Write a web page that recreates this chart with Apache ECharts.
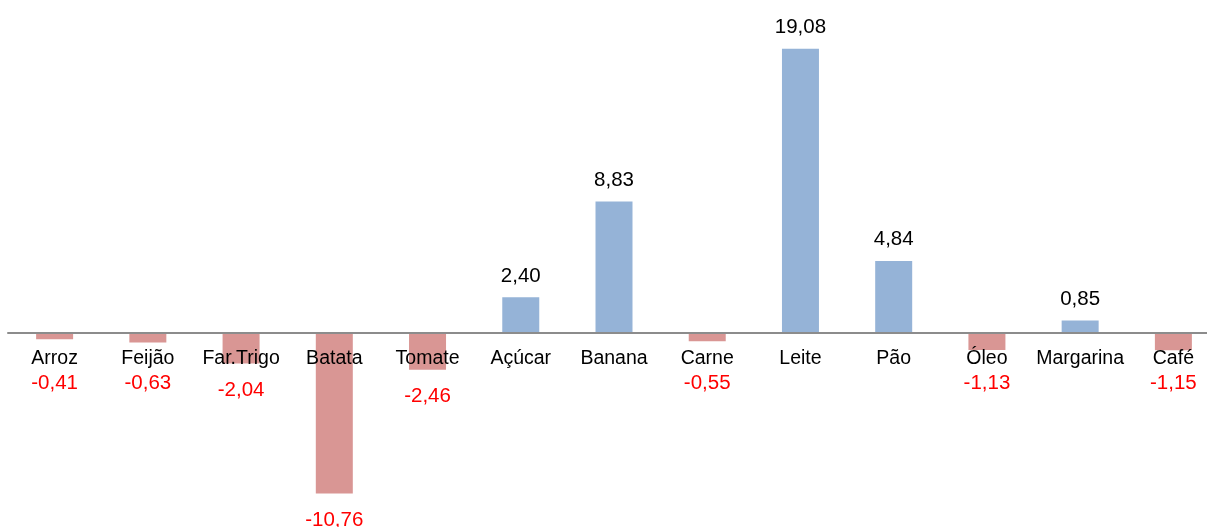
<!DOCTYPE html>
<html><head><meta charset="utf-8">
<script src="https://cdn.jsdelivr.net/npm/echarts@6/dist/echarts.min.js"></script>
<style>html,body{margin:0;padding:0;background:#fff}#c{width:1207px;height:527px}</style>
</head><body><div id="c"></div>
<script>
const categories = ['Arroz','Feijão','Far.Trigo','Batata','Tomate','Açúcar','Banana','Carne','Leite','Pão','Óleo','Margarina','Café'];
const values = [-0.41,-0.63,-2.04,-10.76,-2.46,2.40,8.83,-0.55,19.08,4.84,-1.13,0.85,-1.15];

const posVals = values.map(v => v > 0 ? v : '-');
const negVals = values.map(v => v < 0 ? v : '-');
const zeroPts = categories.map((c, i) => [i, 0]);
const fmt = p => p.value.toFixed(2).replace('.', ',');
const font = 'Liberation Sans, Arial, sans-serif';

const chart = echarts.init(document.getElementById('c'));
chart.setOption({
  animation: false,
  grid: { left: 8, width: 1212, top: 35, bottom: 15, containLabel: false, outerBoundsMode: 'none' },
  xAxis: {
    type: 'category', data: categories, z: 5,
    axisLine: { onZero: true, lineStyle: { color: '#8C8C8C', width: 2 } },
    axisTick: { show: false },
    axisLabel: { show: false }
  },
  yAxis: { type: 'value', min: -12, max: 20, show: false, splitLine: { show: false } },
  series: [
    { type: 'bar', stack: 's', data: posVals, barWidth: 37,
      itemStyle: { color: '#95B3D7' },
      label: { show: true, position: 'top', distance: 11, color: '#000', fontSize: 20.5, fontFamily: font, formatter: fmt } },
    { type: 'bar', stack: 's', data: negVals, barWidth: 37,
      itemStyle: { color: '#D99694' },
      label: { show: true, position: 'bottom', distance: 16, color: '#FF0000', fontSize: 20.5, fontFamily: font, formatter: fmt },
      labelLayout: function (p) {
        const r = p.rect;
        const top = Math.max(r.y + r.height + 16, 373);
        return { x: r.x + r.width / 2, y: top, align: 'center', verticalAlign: 'top' };
      } },
    { type: 'scatter', data: zeroPts, symbolSize: 0, z: 6, silent: true,
      itemStyle: { opacity: 1, color: '#000' },
      label: { show: true, position: 'bottom', distance: 15, color: '#000', opacity: 1, fontSize: 19.5, fontFamily: font,
               formatter: p => categories[p.dataIndex] } }
  ]
});
</script></body></html>
